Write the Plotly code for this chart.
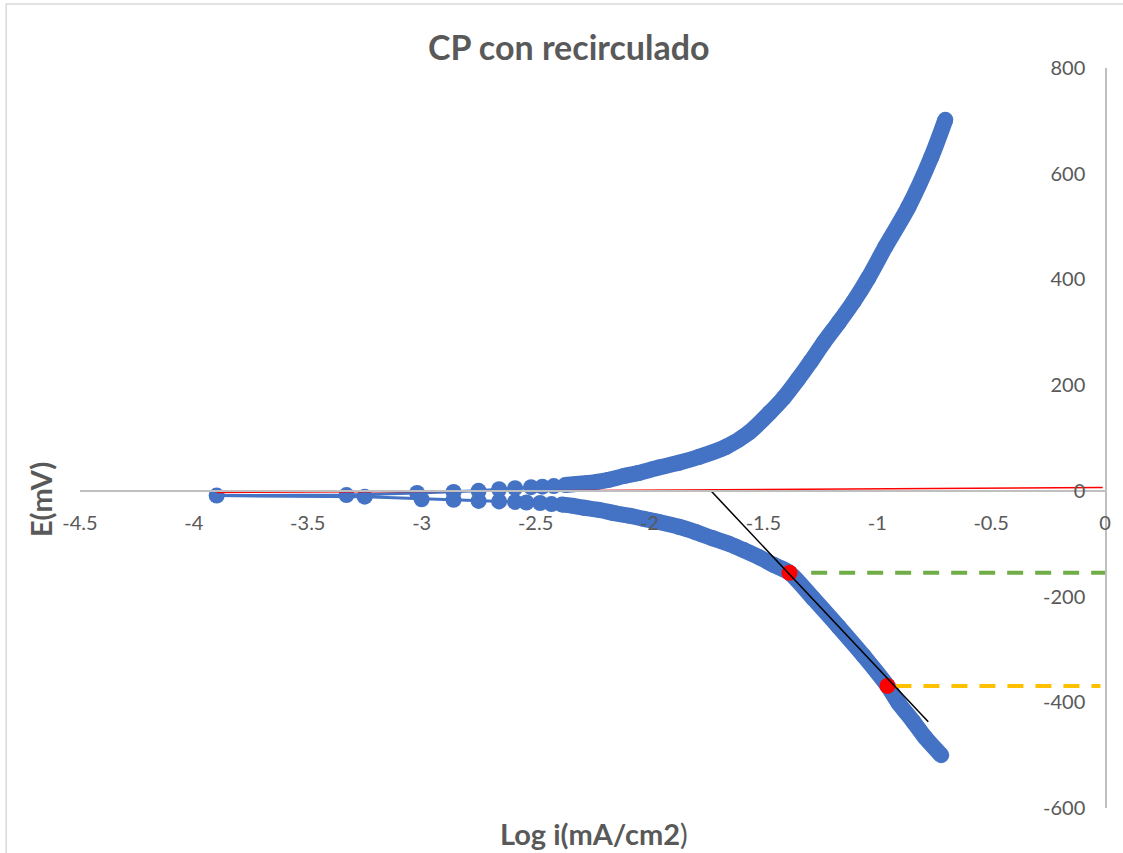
import plotly.graph_objects as go

# Potentiodynamic scan, cathodic end -> Ecorr -> anodic end
log_i = [
    -0.719, -0.789, -0.841, -0.907, -0.955, -1.060, -1.170, -1.280, -1.385, -1.455,
    -1.521, -1.586, -1.652, -1.727, -1.797, -1.871, -1.959, -2.025, -2.090, -2.156,
    -2.222, -2.287, -2.340, -2.384, -2.430, -2.480, -2.540, -2.590, -2.660, -2.750,
    -2.860, -3.000, -3.250,
    -3.900,
    -3.330, -3.020, -2.860, -2.750, -2.660, -2.590, -2.520, -2.470, -2.420, -2.370,
    -2.320, -2.270, -2.230, -2.178, -2.112, -2.046, -1.959, -1.871, -1.784, -1.665,
    -1.564, -1.472, -1.411, -1.350, -1.293, -1.236, -1.170, -1.104, -1.039, -0.964,
    -0.863, -0.762, -0.701,
]
E_mV = [
    -500, -467, -437, -401, -369, -312, -257, -204, -155, -140,
    -125, -112, -100, -89, -78, -68, -59, -53, -47, -42,
    -36, -32, -28, -26, -25, -23, -22, -21, -20, -19,
    -17, -16, -11,
    -9,
    -8, -4, -2, 0, 3, 5, 7, 8, 9, 11,
    13, 15, 17, 21, 28, 34, 44, 53, 64, 83,
    110, 148, 176, 210, 244, 280, 318, 358, 403, 462,
    537, 632, 702,
]
# dense parts of the two branches (index ranges into the scan)
cathodic_band = slice(0, 24)
anodic_band = slice(43, len(log_i))

# Tafel construction
tafel_pts_x = [-1.385, -0.955]
tafel_pts_E = [-155, -369]
tafel_line_x = [-1.73, -0.776]
tafel_line_E = [0, -437]
ecorr_line_x = [-3.90, -0.01]
ecorr_line_E = [-3.2, 6.2]
green_ref_x = [-1.29, 0.0]
orange_ref_x = [-0.92, -0.02]

x_ticks = [-4.5, -4, -3.5, -3, -2.5, -2, -1.5, -1, -0.5, 0]
x_ticktext = ["-4.5", "-4", "-3.5", "-3", "-2.5", "-2", "-1.5", "-1", "-0.5", "0"]
y_ticks = [-600, -400, -200, 0, 200, 400, 600, 800]
y_ticktext = ["-600", "-400", "-200", "0", "200", "400", "600", "800"]

BLUE = "#4472C4"
GREY_TXT = "#595959"
FONT = "Lato"

W, H = 1123, 853
L, R, T, B = 80, 16, 68, 45


def px_x(p):
    return (p - L) / (W - L - R)


def px_y(p):
    return (H - B - p) / (H - T - B)


fig = go.Figure()

for sl in (cathodic_band, anodic_band):
    fig.add_trace(go.Scatter(
        x=log_i[sl], y=E_mV[sl], mode="lines",
        line=dict(color=BLUE, width=16, shape="spline", smoothing=0.8),
        hoverinfo="skip",
    ))

fig.add_trace(go.Scatter(
    x=log_i, y=E_mV, mode="lines+markers",
    line=dict(color=BLUE, width=3),
    marker=dict(color=BLUE, size=16, line=dict(width=0)),
))

fig.add_trace(go.Scatter(
    x=green_ref_x, y=[tafel_pts_E[0]] * 2, mode="lines",
    line=dict(color="#70AD47", width=4, dash="16px,12px"),
))
fig.add_trace(go.Scatter(
    x=orange_ref_x, y=[tafel_pts_E[1]] * 2, mode="lines",
    line=dict(color="#FFC000", width=4, dash="16px,12px"),
))
fig.add_trace(go.Scatter(
    x=tafel_pts_x, y=tafel_pts_E, mode="markers",
    marker=dict(color="#FF0000", size=16, line=dict(width=0)),
))
fig.add_trace(go.Scatter(
    x=ecorr_line_x, y=ecorr_line_E, mode="lines",
    line=dict(color="#FF0000", width=1.5),
))
fig.add_trace(go.Scatter(
    x=tafel_line_x, y=tafel_line_E, mode="lines",
    line=dict(color="#000000", width=1.5),
))

fig.update_layout(
    width=W, height=H,
    margin=dict(l=L, r=R, t=T, b=B),
    paper_bgcolor="white", plot_bgcolor="white",
    showlegend=False,
    font=dict(family=FONT, color=GREY_TXT),
    xaxis=dict(
        range=[-4.5, 0], tickvals=x_ticks, ticktext=x_ticktext,
        showgrid=False, zeroline=False,
        showline=True, linecolor="#BFBFBF", linewidth=1.5,
        anchor="free", position=600 / 1400,
        ticks="", ticklabelstandoff=14, ticklabeloverflow="allow",
        tickfont=dict(size=20, color=GREY_TXT, family=FONT),
    ),
    yaxis=dict(
        range=[-600, 800], tickvals=y_ticks, ticktext=y_ticktext,
        showgrid=False, zeroline=False,
        showline=True, linecolor="#BFBFBF", linewidth=1.5,
        side="right", ticklabelposition="inside", ticks="",
        ticklabelstandoff=21, ticklabeloverflow="allow",
        tickfont=dict(size=20, color=GREY_TXT, family=FONT),
    ),
    annotations=[
        dict(text="<b>CP con recirculado</b>", xref="paper", yref="paper",
             x=px_x(570), y=px_y(47), xanchor="center", yanchor="middle",
             showarrow=False, font=dict(size=34, color=GREY_TXT, family=FONT)),
        dict(text="<b>E(mV)</b>", xref="paper", yref="paper",
             x=px_x(40), y=px_y(500), xanchor="center", yanchor="middle",
             textangle=-90, showarrow=False,
             font=dict(size=29, color=GREY_TXT, family=FONT)),
        dict(text="<b>Log i(mA/cm2</b>)", xref="paper", yref="paper",
             x=px_x(595), y=px_y(833), xanchor="center", yanchor="middle",
             showarrow=False, font=dict(size=29, color=GREY_TXT, family=FONT)),
    ],
    shapes=[
        dict(type="rect", xref="paper", yref="paper",
             x0=px_x(6), x1=px_x(1140), y0=px_y(870), y1=px_y(4),
             line=dict(color="#D9D9D9", width=1.5), fillcolor="rgba(0,0,0,0)",
             layer="below"),
    ],
)

fig.write_html("out.html")
